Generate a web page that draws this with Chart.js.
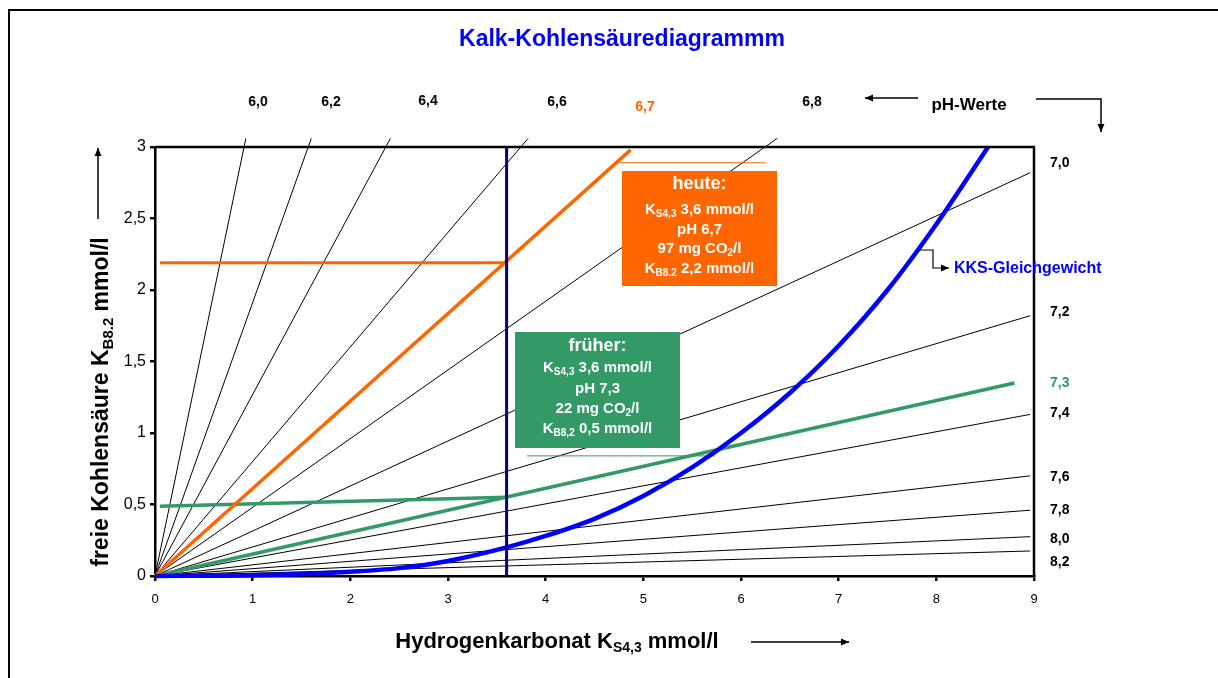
<!DOCTYPE html>
<html lang="de">
<head>
<meta charset="utf-8" />
<title>Kalk-Kohlensäurediagramm</title>
<style>
html,body{margin:0;padding:0;background:#fff;}
#wrap{width:1218px;height:678px;}
canvas{display:block;}
</style>
</head>
<body>
<div id="wrap"><canvas id="kks" width="1218" height="678"></canvas></div>

<script src="https://cdn.jsdelivr.net/npm/chart.js@4.4.1"></script>
<script>
/* ─────────── data ─────────── */
// pH lines through the origin, end points in (HCO3, CO2) mmol/l
const phLabels = ['6,0','6,2','6,4','6,6','6,7','6,8','7,0','7,2','7,3','7,4','7,6','7,8','8,0','8,2'];
const phEndX   = [0.93, 1.60, 2.41, 3.82, 4.87, 6.37, 8.96, 8.96, 8.80, 8.96, 8.96, 8.96, 8.96, 8.96];
const phEndY   = [3.06, 3.06, 3.06, 3.06, 2.98, 3.06, 2.82, 1.82, 1.35, 1.13, 0.70, 0.46, 0.275, 0.175];

// Kalk-Kohlensäure-Gleichgewicht (KKS curve)
const kksX = [0, 1, 2, 2.5, 3, 3.6, 4, 4.5, 5, 5.5, 6, 6.5, 7, 7.5, 8, 8.53];
const kksY = [0, 0.005, 0.03, 0.055, 0.105, 0.2, 0.28, 0.4, 0.56, 0.76, 1.0, 1.28, 1.61, 2.0, 2.46, 3.0];

// today / earlier state at KS4,3 = 3,6
const markerX    = [3.6, 3.6];   const markerY    = [0, 3];
const heuteLineX = [0.05, 3.6];  const heuteLineY = [2.19, 2.19];
const fruherLineX= [0.05, 3.6];  const fruherLineY= [0.487, 0.55];
const heuteRuleX = [4.76, 6.25]; const heuteRuleY = [2.89, 2.89];
const fruherRuleX= [3.81, 5.73]; const fruherRuleY= [0.84, 0.84];

const xTicks = [0,1,2,3,4,5,6,7,8,9];
const yTicks = [0,0.5,1,1.5,2,2.5,3];

/* ─────────── look ─────────── */
const F = 'Arial, "Liberation Sans", Helvetica, sans-serif';
const ORANGE = '#ff6600', GREEN = '#339966', BLUE = '#0000ff', NAVY = '#000080';

const pts = (xs, ys) => xs.map((x, i) => ({x, y: ys[i]}));

/* ─────────── datasets ─────────── */
const datasets = [];
phLabels.forEach((l, i) => {
    const col = l === '6,7' ? ORANGE : l === '7,3' ? GREEN : '#000';
    datasets.push({
        label: 'pH ' + l,
        data: [{x: 0, y: 0}, {x: phEndX[i], y: phEndY[i]}],
        borderColor: col,
        borderWidth: col === '#000' ? 1 : 3.5,
        order: col === '#000' ? 5 : 3
    });
});
datasets.push({label:'heute', data: pts(heuteLineX, heuteLineY), borderColor: ORANGE, borderWidth: 3, order: 3});
datasets.push({label:'früher', data: pts(fruherLineX, fruherLineY), borderColor: GREEN, borderWidth: 3.5, order: 3});
datasets.push({label:'heute rule', data: pts(heuteRuleX, heuteRuleY), borderColor: ORANGE, borderWidth: 1, order: 4});
datasets.push({label:'früher rule', data: pts(fruherRuleX, fruherRuleY), borderColor: GREEN, borderWidth: 1, order: 4});
datasets.push({label:'KKS', data: pts(kksX, kksY), borderColor: BLUE, borderWidth: 4.5,
               cubicInterpolationMode: 'monotone', order: 2});
datasets.push({label:'KS 3,6', data: pts(markerX, markerY), borderColor: NAVY, borderWidth: 3, order: 1});
datasets.forEach(d => { d.showLine = true; d.pointRadius = 0; d.clip = false; d.fill = false; });

/* ─────────── drawing helpers ─────────── */
// parts: [[text, isSubscript], ...], y = baseline
function rich(ctx, parts, x, y, size, color, align){
    const sub = Math.round(size * 0.64);
    let w = 0;
    parts.forEach(p => { ctx.font = `bold ${p[1] ? sub : size}px ${F}`; w += ctx.measureText(p[0]).width; });
    let cx = align === 'center' ? x - w / 2 : align === 'right' ? x - w : x;
    ctx.fillStyle = color; ctx.textAlign = 'left'; ctx.textBaseline = 'alphabetic';
    parts.forEach(p => {
        ctx.font = `bold ${p[1] ? sub : size}px ${F}`;
        ctx.fillText(p[0], cx, y + (p[1] ? size * 0.2 : 0));
        cx += ctx.measureText(p[0]).width;
    });
}
function text(ctx, s, x, cy, size, color, align){
    rich(ctx, [[s, false]], x, cy + size * 0.36, size, color, align || 'center');
}
function arrow(ctx, pts){
    ctx.beginPath();
    ctx.moveTo(pts[0][0], pts[0][1]);
    for (let i = 1; i < pts.length; i++) ctx.lineTo(pts[i][0], pts[i][1]);
    ctx.stroke();
    const [x1, y1] = pts[pts.length - 2], [x2, y2] = pts[pts.length - 1];
    const a = Math.atan2(y2 - y1, x2 - x1), L = 8, W = 3.5;
    ctx.beginPath();
    ctx.moveTo(x2, y2);
    ctx.lineTo(x2 - L * Math.cos(a) + W * Math.sin(a), y2 - L * Math.sin(a) - W * Math.cos(a));
    ctx.lineTo(x2 - L * Math.cos(a) - W * Math.sin(a), y2 - L * Math.sin(a) + W * Math.cos(a));
    ctx.closePath();
    ctx.fill();
}

/* ─────────── frame, labels, boxes ─────────── */
const decor = {
    id: 'decor',
    afterDatasetsDraw(chart){
        const {ctx, chartArea: a} = chart;
        ctx.save();
        // box round the plot (top and right; axes draw left/bottom)
        ctx.strokeStyle = '#000'; ctx.lineWidth = 2.5;
        ctx.beginPath();
        ctx.moveTo(a.left, a.top); ctx.lineTo(a.right, a.top); ctx.lineTo(a.right, a.bottom);
        ctx.stroke();
        // outer page frame
        ctx.lineWidth = 2;
        ctx.beginPath();
        ctx.moveTo(9, 678); ctx.lineTo(9, 10); ctx.lineTo(1218, 10);
        ctx.stroke();
        ctx.restore();
    },
    afterDraw(chart){
        const {ctx} = chart;
        ctx.save();
        ctx.strokeStyle = '#000'; ctx.fillStyle = '#000'; ctx.lineWidth = 1.5;

        // title
        text(ctx, 'Kalk-Kohlensäurediagrammm', 622, 38, 23, BLUE);

        // pH labels on top and on the right
        const top = {'6,0':[258,101], '6,2':[331,101], '6,4':[428,100], '6,6':[557,101], '6,7':[645,106], '6,8':[812,101]};
        const right = {'7,0':162, '7,2':311, '7,3':382, '7,4':412, '7,6':476, '7,8':509, '8,0':538, '8,2':561};
        phLabels.forEach(l => {
            const col = l === '6,7' ? ORANGE : l === '7,3' ? GREEN : '#000';
            if (top[l]) text(ctx, l, top[l][0], top[l][1], 14, col);
            else text(ctx, l, 1050, right[l], 14, col, 'left');
        });

        // pH-Werte with arrows
        text(ctx, 'pH-Werte', 969, 104, 17, '#000');
        ctx.fillStyle = '#000';
        arrow(ctx, [[918, 98], [865, 98]]);
        arrow(ctx, [[1036, 99], [1101, 99], [1101, 132]]);

        // KKS-Gleichgewicht
        text(ctx, 'KKS-Gleichgewicht', 954, 267, 16, BLUE, 'left');
        ctx.fillStyle = '#000'; ctx.lineWidth = 1.2;
        arrow(ctx, [[917, 250], [933, 250], [933, 268], [949, 268]]);

        // heute box
        ctx.fillStyle = ORANGE;
        ctx.fillRect(622, 171, 155, 115);
        text(ctx, 'heute:', 699.5, 183, 18, '#fff');
        rich(ctx, [['K', false], ['S4,3', true], [' 3,6 mmol/l', false]], 699.5, 214, 15, '#fff', 'center');
        text(ctx, 'pH 6,7', 699.5, 229, 15, '#fff');
        rich(ctx, [['97 mg CO', false], ['2', true], ['/l', false]], 699.5, 253, 15, '#fff', 'center');
        rich(ctx, [['K', false], ['B8.2', true], [' 2,2 mmol/l', false]], 699.5, 273, 15, '#fff', 'center');

        // früher box
        ctx.fillStyle = GREEN;
        ctx.fillRect(515, 332, 165, 116);
        text(ctx, 'früher:', 597.5, 345, 18, '#fff');
        rich(ctx, [['K', false], ['S4,3', true], [' 3,6 mmol/l', false]], 597.5, 372, 15, '#fff', 'center');
        text(ctx, 'pH 7,3', 597.5, 388, 15, '#fff');
        rich(ctx, [['22 mg CO', false], ['2', true], ['/l', false]], 597.5, 413, 15, '#fff', 'center');
        rich(ctx, [['K', false], ['B8,2', true], [' 0,5 mmol/l', false]], 597.5, 433, 15, '#fff', 'center');

        // axis titles
        ctx.fillStyle = '#000'; ctx.lineWidth = 1.5;
        rich(ctx, [['Hydrogenkarbonat K', false], ['S4,3', true], [' mmol/l', false]], 557, 648, 22, '#000', 'center');
        arrow(ctx, [[751, 642], [849, 642]]);

        ctx.save();
        ctx.translate(100, 402);
        ctx.rotate(-Math.PI / 2);
        rich(ctx, [['freie Kohlensäure K', false], ['B8.2', true], [' mmol/l', false]], 0, 8, 23, '#000', 'center');
        ctx.restore();
        ctx.fillStyle = '#000';
        arrow(ctx, [[98, 219], [98, 148]]);

        ctx.restore();
    }
};

/* ─────────── chart ─────────── */
Chart.defaults.animation = false;

new Chart(document.getElementById('kks'), {
    type: 'scatter',
    data: {datasets},
    options: {
        responsive: false,
        layout: {padding: {left: 95, right: 184, top: 147, bottom: 62}},
        plugins: {legend: {display: false}, tooltip: {enabled: false}},
        scales: {
            x: {
                type: 'linear', min: 0, max: 9,
                afterFit: s => { s.height = 40; },
                afterBuildTicks: s => { s.ticks = xTicks.map(v => ({value: v})); },
                ticks: {color: '#000', font: {family: F, size: 13}, padding: 11},
                grid: {drawOnChartArea: false, color: '#000', lineWidth: 2.5, tickLength: 5},
                border: {display: true, color: '#000', width: 2.5}
            },
            y: {
                type: 'linear', min: 0, max: 3,
                afterFit: s => { s.width = 60; },
                afterBuildTicks: s => { s.ticks = yTicks.map(v => ({value: v})); },
                ticks: {color: '#000', font: {family: F, size: 16}, padding: 4,
                        callback: v => String(v).replace('.', ',')},
                grid: {drawOnChartArea: false, color: '#000', lineWidth: 2.5, tickLength: 5},
                border: {display: true, color: '#000', width: 2.5}
            }
        }
    },
    plugins: [decor]
});
</script>
</body>
</html>
